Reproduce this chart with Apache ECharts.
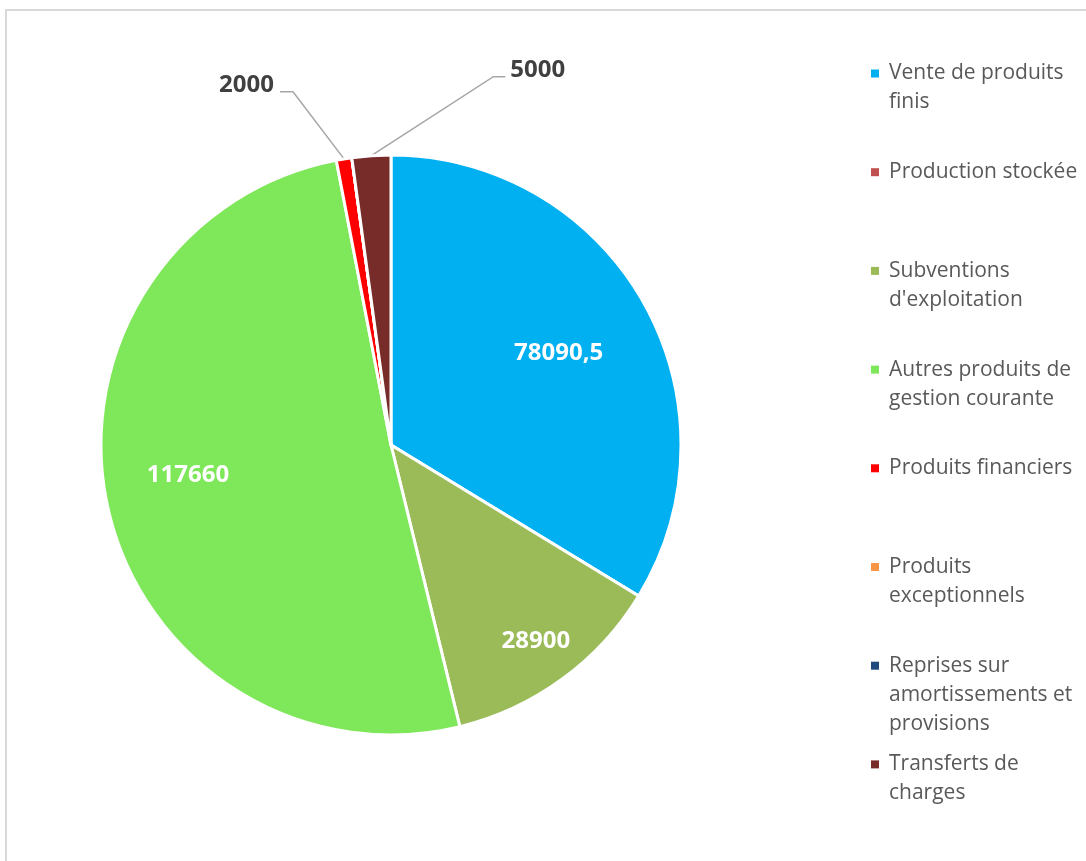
<!DOCTYPE html>
<html><head><meta charset="utf-8">
<script src="https://cdn.jsdelivr.net/npm/echarts@6/dist/echarts.min.js"></script>
<style>html,body{margin:0;padding:0;background:#fff}#c{width:1086px;height:861px}</style>
</head><body><div id="c"></div>
<script>
var categories = ['Vente de produits finis', 'Production stockée', "Subventions d'exploitation", 'Autres produits de gestion courante', 'Produits financiers', 'Produits exceptionnels', 'Reprises sur amortissements et provisions', 'Transferts de charges'];
var values = [78090.5, 0, 28900, 117660, 2000, 0, 0, 5000];
var legendLines = [['Vente de produits', 'finis'], ['Production stockée'], ['Subventions', "d'exploitation"], ['Autres produits de', 'gestion courante'], ['Produits financiers'], ['Produits', 'exceptionnels'], ['Reprises sur', 'amortissements et', 'provisions'], ['Transferts de', 'charges']];
var colors = ['#00B0F0', '#C0504D', '#9BBB59', '#7FE75A', '#FF0000', '#F79646', '#1F497D', '#772C2A'];

// layout / style settings
var CX = 391, CY = 445, R = 290;
var insideCfg = {0: {k: 0.66, da: 0.5}, 2: {k: 0.84, da: -0.3}, 3: {k: 0.708, da: 3.8}};
var outerCfg = {4: {dx: -51, dy: -67, h: -13}, 7: {dx: 122, dy: -79, h: 12}};
var LH = 29, FIRST_Y = 73.5, STEP = 98.7, TXT_SHIFT = 4;

var total = values.reduce(function (a, b) { return a + b; }, 0);
var midAngles = [];
(function () {
  var acc = 0;
  values.forEach(function (v) { midAngles.push((acc + v / 2) / total * 2 * Math.PI); acc += v; });
})();
function fmt(v) { return String(v).replace('.', ','); }

var chart = echarts.init(document.getElementById('c'));
var data = categories.map(function (name, i) {
  var isOuter = !!outerCfg[i];
  return {
    name: name, value: values[i],
    itemStyle: {color: colors[i]},
    label: {
      show: values[i] !== 0,
      position: isOuter ? 'outside' : 'inside',
      color: isOuter ? '#404040' : '#FFFFFF'
    },
    labelLine: {show: isOuter && values[i] !== 0}
  };
});

var legends = legendLines.map(function (lines, i) {
  var n = lines.length;
  var H = (2 * n - 1) * LH + TXT_SHIFT;
  return {
    orient: 'vertical', left: 871, top: FIRST_Y + i * STEP - H / 2,
    padding: 0, itemWidth: 8, itemHeight: 8, icon: 'rect',
    itemStyle: {borderWidth: 0},
    selectedMode: false,
    data: [categories[i]],
    formatter: function () { return new Array(n).join('\n') + lines.join('\n'); },
    textStyle: {fontFamily: 'Open Sans', fontSize: 21, color: '#595959', lineHeight: LH, padding: [TXT_SHIFT, 0, 0, 5]}
  };
});

chart.setOption({
  animation: false,
  backgroundColor: '#fff',
  graphic: [{type: 'rect', shape: {x: 6, y: 10, width: 1200, height: 1000}, style: {fill: 'none', stroke: '#D9D9D9', lineWidth: 2}, silent: true}],
  legend: legends,
  series: [{
    type: 'pie', center: [CX, CY], radius: [0, R],
    startAngle: 90, clockwise: true, avoidLabelOverlap: false,
    itemStyle: {borderColor: '#fff', borderWidth: 3},
    label: {fontFamily: 'Open Sans', fontSize: 24, fontWeight: 'bold', formatter: function (p) { return fmt(p.value); }},
    labelLine: {lineStyle: {color: '#A6A6A6', width: 1.5}, length: 20, length2: 10},
    emphasis: {disabled: true},
    labelLayout: function (p) {
      var i = p.dataIndex, a = midAngles[i];
      var ic = insideCfg[i];
      if (ic) {
        var r = ic.k * R, aa = a + ic.da * Math.PI / 180;
        return {x: CX + r * Math.sin(aa), y: CY - r * Math.cos(aa), align: 'center', verticalAlign: 'middle'};
      }
      var c = outerCfg[i];
      if (c) {
        var s = [CX + R * Math.sin(a), CY - R * Math.cos(a)];
        var b = [s[0] + c.dx, s[1] + c.dy];
        var e = [b[0] + c.h, b[1]];
        return {
          x: e[0] + (c.h < 0 ? -6 : 5), y: e[1] - 7,
          align: c.h < 0 ? 'right' : 'left', verticalAlign: 'middle',
          labelLinePoints: [s, b, e]
        };
      }
      return {};
    },
    data: data
  }]
});
</script></body></html>
